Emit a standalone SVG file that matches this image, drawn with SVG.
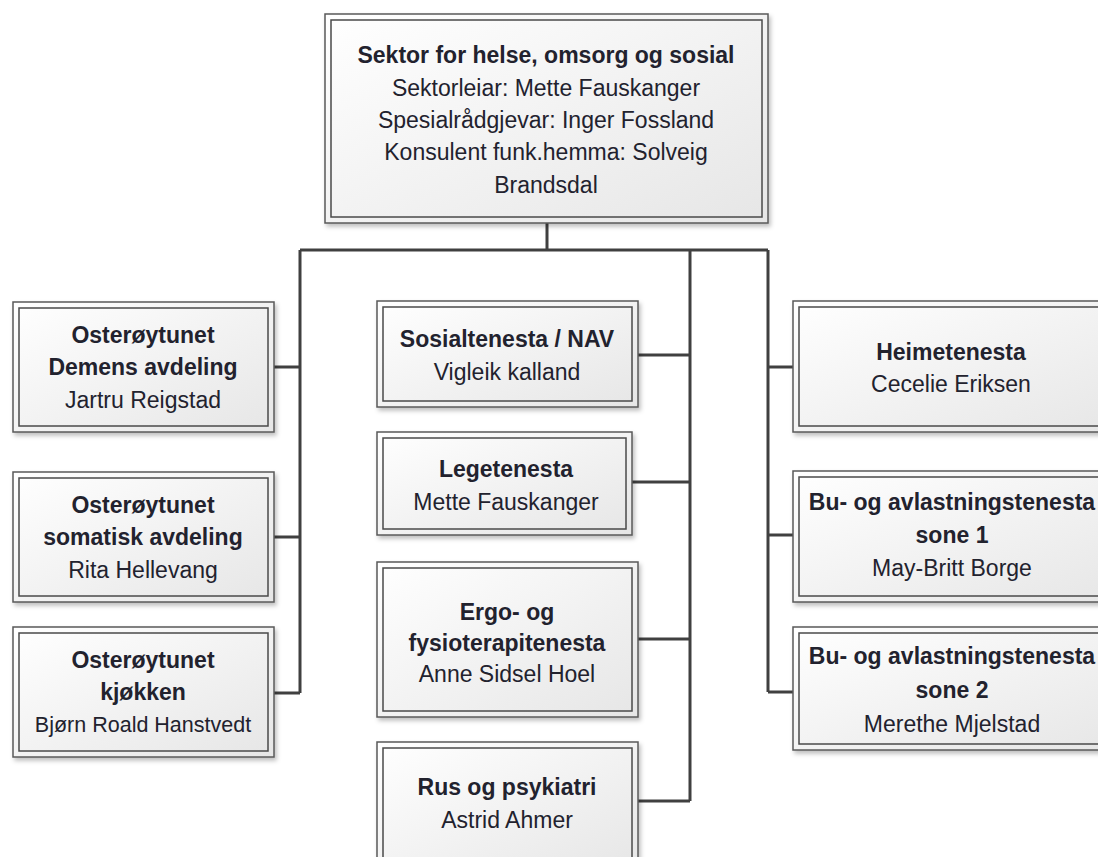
<svg xmlns="http://www.w3.org/2000/svg" width="1098" height="857" viewBox="0 0 1098 857">
<defs>
<linearGradient id="fill" x1="0" y1="0" x2="1" y2="1">
<stop offset="0" stop-color="#ffffff"/>
<stop offset="1" stop-color="#e6e6e6"/>
</linearGradient>
<filter id="sh" x="-10%" y="-10%" width="130%" height="130%">
<feDropShadow dx="2" dy="3" stdDeviation="2" flood-color="#000" flood-opacity="0.25"/>
</filter>
</defs>
<style>
.outer{fill:url(#fill);stroke:#5a5a5a;stroke-width:1.5;filter:url(#sh)}
.inner{fill:none;stroke:#4a4a4a;stroke-width:1.5}
text{font-family:"Liberation Sans",Arial,sans-serif;font-size:23px;fill:#22222e;text-anchor:middle}
.b{font-weight:bold}
.s{font-size:21.5px}
.con{fill:none;stroke:#404040;stroke-width:3}
</style>
<rect width="1098" height="857" fill="#ffffff"/>
<g id="connectors" class="con">
<path d="M547,223 V250 M300,250 H768 M300,250 V693 M274,367 H300 M274,537 H300 M274,693 H300 M690,250 V801 M638,355 H690 M632,482 H690 M638,639 H690 M638,801 H690 M768,250 V692 M768,367 H793 M768,535 H793 M768,692 H793"/>
</g>
<g id="top">
<rect class="outer" x="325" y="14" width="443" height="209"/>
<rect class="inner" x="331" y="20" width="431" height="197"/>
<text class="b" x="546" y="63">Sektor for helse, omsorg og sosial</text>
<text x="546" y="96">Sektorleiar: Mette Fauskanger</text>
<text x="546" y="128">Spesialrådgjevar: Inger Fossland</text>
<text x="546" y="160">Konsulent funk.hemma: Solveig</text>
<text x="546" y="193">Brandsdal</text>
</g>
<g id="osteroy-demens">
<rect class="outer" x="13" y="302" width="261" height="130"/>
<rect class="inner" x="19" y="308" width="249" height="118"/>
<text class="b" x="143" y="343">Osterøytunet</text>
<text class="b" x="143" y="375">Demens avdeling</text>
<text x="143" y="408">Jartru Reigstad</text>
</g>
<g id="osteroy-somatisk">
<rect class="outer" x="13" y="472" width="261" height="130"/>
<rect class="inner" x="19" y="478" width="249" height="118"/>
<text class="b" x="143" y="513">Osterøytunet</text>
<text class="b" x="143" y="545">somatisk avdeling</text>
<text x="143" y="578">Rita Hellevang</text>
</g>
<g id="osteroy-kjokken">
<rect class="outer" x="13" y="627" width="261" height="130"/>
<rect class="inner" x="19" y="633" width="249" height="118"/>
<text class="b" x="143" y="668">Osterøytunet</text>
<text class="b" x="143" y="700">kjøkken</text>
<text class="s" x="143" y="732">Bjørn Roald Hanstvedt</text>
</g>
<g id="sosial">
<rect class="outer" x="377" y="301" width="261" height="106"/>
<rect class="inner" x="383" y="307" width="249" height="94"/>
<text class="b" x="507" y="347">Sosialtenesta / NAV</text>
<text x="507" y="380">Vigleik kalland</text>
</g>
<g id="lege">
<rect class="outer" x="377" y="432" width="255" height="103"/>
<rect class="inner" x="383" y="438" width="243" height="91"/>
<text class="b" x="506" y="477">Legetenesta</text>
<text x="506" y="510">Mette Fauskanger</text>
</g>
<g id="ergo">
<rect class="outer" x="377" y="562" width="261" height="155"/>
<rect class="inner" x="383" y="568" width="249" height="143"/>
<text class="b" x="507" y="620">Ergo- og</text>
<text class="b" x="507" y="651">fysioterapitenesta</text>
<text x="507" y="682">Anne Sidsel Hoel</text>
</g>
<g id="rus">
<rect class="outer" x="377" y="742" width="261" height="130"/>
<rect class="inner" x="383" y="748" width="249" height="118"/>
<text class="b" x="507" y="795">Rus og psykiatri</text>
<text x="507" y="828">Astrid Ahmer</text>
</g>
<g id="heime">
<rect class="outer" x="793" y="301" width="330" height="131"/>
<rect class="inner" x="799" y="307" width="318" height="119"/>
<text class="b" x="951" y="360">Heimetenesta</text>
<text x="951" y="392">Cecelie Eriksen</text>
</g>
<g id="bu1">
<rect class="outer" x="793" y="471" width="330" height="131"/>
<rect class="inner" x="799" y="477" width="318" height="119"/>
<text class="b" x="952" y="510">Bu- og avlastningstenesta</text>
<text class="b" x="952" y="543">sone 1</text>
<text x="952" y="576">May-Britt Borge</text>
</g>
<g id="bu2">
<rect class="outer" x="793" y="627" width="330" height="123"/>
<rect class="inner" x="799" y="633" width="318" height="111"/>
<text class="b" x="952" y="664">Bu- og avlastningstenesta</text>
<text class="b" x="952" y="698">sone 2</text>
<text x="952" y="732">Merethe Mjelstad</text>
</g>
</svg>
